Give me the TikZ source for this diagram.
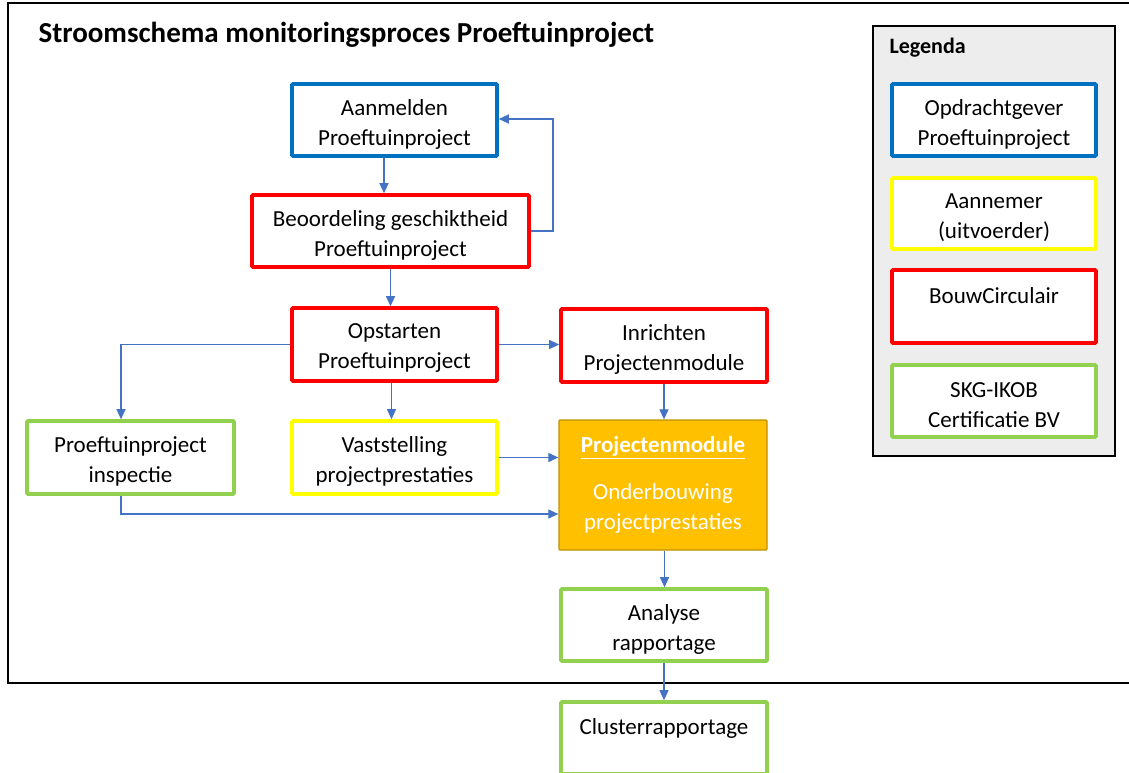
\documentclass[tikz,border=0pt]{standalone}
\usepackage{fontspec}
\setmainfont{Carlito}
\usetikzlibrary{arrows.meta}
\definecolor{cblue}{RGB}{0,112,192}
\definecolor{cred}{RGB}{255,0,0}
\definecolor{cyellow}{RGB}{255,255,0}
\definecolor{cgreen}{RGB}{146,208,80}
\definecolor{corange}{RGB}{255,192,0}
\definecolor{corangeb}{RGB}{191,144,0}
\definecolor{carrow}{RGB}{68,114,196}
\definecolor{clegbg}{RGB}{237,237,237}
\tikzset{
  bx/.style={draw, line width=3.6pt, fill=white, rounded corners=1pt, align=center, inner sep=0pt,
    font=\fontsize{23}{30}\selectfont, text=black},
  txt/.style={align=center, inner sep=0pt, font=\fontsize{23}{30}\selectfont, text=black, yshift=-4pt},
  arr/.style={draw=carrow, line width=1.1pt, -{Triangle[length=10pt,width=9pt]}},
}
\begin{document}
\begin{tikzpicture}[x=1pt,y=-1pt]
\useasboundingbox (0,0) rectangle (1129,773);
\fill[white] (0,0) rectangle (1129,773);
% outer frame
\begin{scope}
\clip (0,0) rectangle (1129,773);
\draw[line width=2pt] (1140,3) -- (8,3) -- (8,683) -- (1140,683);
\end{scope}
\node[anchor=west, font=\fontsize{29}{32}\selectfont\bfseries] (title) at (35,35) {Stroomschema monitoringsproces Proeftuinproject};

% flow boxes
\node[bx, draw=cblue, minimum width=205, minimum height=72, label={[txt]center:{Aanmelden\\Proeftuinproject}}] (aan) at (394.5,120) {};
\node[bx, draw=cred, minimum width=277, minimum height=72, label={[txt]center:{Beoordeling geschiktheid\\Proeftuinproject}}] (beo) at (390.5,231) {};
\node[bx, draw=cred, minimum width=205, minimum height=73, label={[txt]center:{Opstarten\\Proeftuinproject}}] (ops) at (394.5,344.5) {};
\node[bx, draw=cred, minimum width=206, minimum height=73, label={[txt]center:{Inrichten\\Projectenmodule}}] (inr) at (664,345.5) {};
\node[bx, draw=cgreen, minimum width=207, minimum height=73, label={[txt]center:{Proeftuinproject\\inspectie}}] (insp) at (130.5,457.5) {};
\node[bx, draw=cyellow, minimum width=205, minimum height=73, label={[txt]center:{Vaststelling\\projectprestaties}}] (vast) at (394.5,457.5) {};
\node[bx, draw=corangeb, fill=corange, line width=1.3pt, minimum width=208, minimum height=130, text=white] (pm) at (663,485) {\underline{\textbf{Projectenmodule}}\\[17pt]Onderbouwing\\projectprestaties};
\node[bx, draw=cgreen, minimum width=206, minimum height=72, label={[txt]center:{Analyse\\rapportage}}] (ana) at (664,625) {};
\node[bx, draw=cgreen, minimum width=206, minimum height=72, label={[txt]center:{Clusterrapportage\\\mbox{}}}] (clu) at (664,738) {};

% connectors
\coordinate (fb) at (553,231);
\draw[arr] ([xshift=-10.5pt]aan.south) -- ([xshift=-10.5pt]aan.south |- beo.north);
\draw[arr] (beo.east) -- (fb) |- ([yshift=1pt]aan.east);
\draw[arr] (beo.south) -- (beo.south |- ops.north);
\draw[arr] (ops.east) -- (ops.east -| inr.west);
\draw[arr] (ops.west) -| ([xshift=-9.5pt]insp.north);
\draw[arr] ([xshift=-3pt]ops.south) -- ([xshift=-3pt]ops.south |- vast.north);
\draw[arr] (inr.south) -- (inr.south |- pm.north);
\draw[arr] (vast.east) -- (vast.east -| pm.west);
\draw[arr] ([xshift=-9.5pt]insp.south) |- ([yshift=-29pt]pm.west);
\draw[arr] ([xshift=1.5pt]pm.south) -- ([xshift=1.5pt]pm.south |- ana.north);
\draw[arr] (ana.south) -- (clu.north);

% legend
\node[draw=black, line width=1.6pt, fill=clegbg, minimum width=242, minimum height=430, inner sep=0pt] (leg) at (994,241) {};
\node[anchor=west, font=\fontsize{22}{24}\selectfont\bfseries] (legt) at (886,48) {Legenda};
\node[bx, draw=cblue, minimum width=204, minimum height=72, label={[txt]center:{Opdrachtgever\\Proeftuinproject}}] (l1) at (994,120) {};
\node[bx, draw=cyellow, minimum width=204, minimum height=71, label={[txt]center:{Aannemer\\(uitvoerder)}}] (l2) at (994,213.5) {};
\node[bx, draw=cred, minimum width=204, minimum height=73, label={[txt]center:{BouwCirculair\\\mbox{}}}] (l3) at (994,306.5) {};
\node[bx, draw=cgreen, minimum width=204, minimum height=72, label={[txt]center:{SKG-IKOB\\Certificatie BV}}] (l4) at (994,401) {};
\end{tikzpicture}
\end{document}
